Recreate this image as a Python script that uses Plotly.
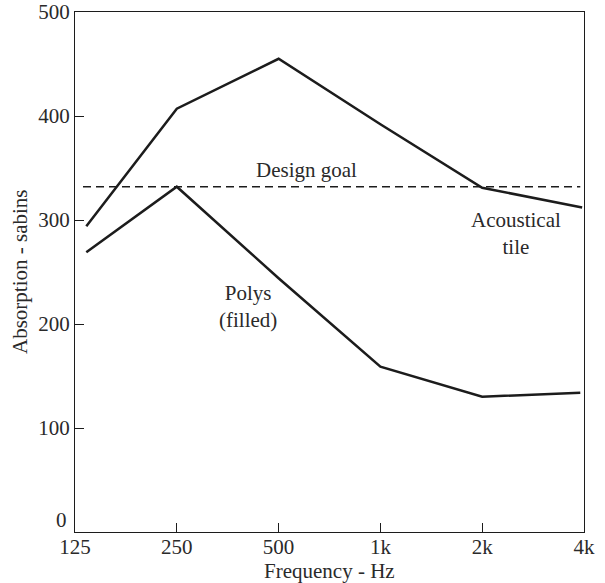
import math
import plotly.graph_objects as go

freq = [135, 250, 500, 1000, 2000, 3950]
tile = [294, 407, 455, 392, 331, 312]
polys_freq = [135, 250, 500, 1000, 2000, 3900]
polys = [269, 332, 244, 159, 130, 134]
goal_freq = [132, 3900]
goal = [332, 332]

tick_vals = [125, 250, 500, 1000, 2000, 4000]
tick_text = ["125", "250", "500", "1k", "2k", "4k"]
y_ticks = [100, 200, 300, 400, 500]
y_zero_label = 0

FONT = "Liberation Serif"
INK = "#1c1c1c"
TXT = "#2a2a2a"

fig = go.Figure()
fig.add_trace(go.Scatter(x=goal_freq, y=goal, mode="lines",
                         line=dict(color=INK, width=1.4, dash="8px,5px"),
                         showlegend=False, hoverinfo="skip"))
fig.add_trace(go.Scatter(x=freq, y=tile, mode="lines",
                         line=dict(color=INK, width=2.5),
                         showlegend=False))
fig.add_trace(go.Scatter(x=polys_freq, y=polys, mode="lines",
                         line=dict(color=INK, width=2.5),
                         showlegend=False))

ann = [
    ("Design goal", 605, 348),
    ("Acoustical<br>tile", 2520, 287),
    ("Polys<br>(filled)", 405, 217),
]
for t, x, y in ann:
    fig.add_annotation(x=math.log10(x), y=y, text=t, showarrow=False,
                       xref="x", yref="y",
                       font=dict(family=FONT, size=21, color=TXT),
                       align="center")

# zero label of the y axis, raised above the x tick labels as in the reference
fig.add_annotation(x=0, y=y_zero_label, xref="paper", yref="y",
                   text=str(y_zero_label), showarrow=False,
                   xanchor="right", yanchor="bottom", xshift=-6, yshift=-2,
                   font=dict(family=FONT, size=21, color=TXT))

# axis titles
fig.add_annotation(x=0.5, y=0, xref="paper", yref="paper",
                   text="Frequency - Hz", showarrow=False,
                   xanchor="center", yanchor="middle", yshift=-39,
                   font=dict(family=FONT, size=21, color=TXT))
fig.add_annotation(x=0, y=0.5, xref="paper", yref="paper",
                   text="Absorption - sabins", showarrow=False, textangle=-90,
                   xanchor="center", yanchor="middle", xshift=-55,
                   font=dict(family=FONT, size=21, color=TXT))

fig.update_xaxes(type="log", range=[math.log10(125), math.log10(4000)],
                 tickvals=tick_vals, ticktext=tick_text,
                 ticks="inside", ticklen=9, tickwidth=1.3, tickcolor=INK,
                 showline=True, linecolor=INK, linewidth=1.3, mirror=True,
                 showgrid=False, zeroline=False, automargin=False,
                 ticklabelstandoff=-4,
                 tickfont=dict(family=FONT, size=21, color=TXT))
fig.update_yaxes(range=[0, 500], tickvals=y_ticks,
                 ticks="inside", ticklen=9, tickwidth=1.3, tickcolor=INK,
                 showline=True, linecolor=INK, linewidth=1.3, mirror=True,
                 showgrid=False, zeroline=False, automargin=False,
                 tickfont=dict(family=FONT, size=21, color=TXT))

fig.update_layout(width=605, height=583,
                  margin=dict(l=75, r=21, t=12, b=51),
                  paper_bgcolor="white", plot_bgcolor="white")

# remove the browser's default 8px body margin so the figure fills the window
fig.write_html("out.html", config={"displayModeBar": False},
               post_script="document.body.style.margin='0px';")
